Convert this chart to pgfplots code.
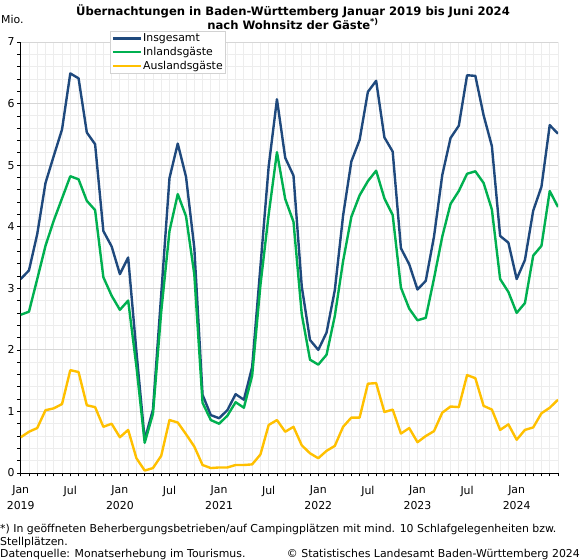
\documentclass[border=0pt]{standalone}
\usepackage{pgfplots}
\usepackage{pgfplotstable}
\pgfplotsset{compat=1.18}
\usepackage{fontspec}
\setmainfont{DejaVu Sans}
\definecolor{cblue}{HTML}{1F497D}
\definecolor{cgreen}{HTML}{00B050}
\definecolor{corange}{HTML}{FFC000}
\definecolor{gmaj}{HTML}{D6D6D6}
\definecolor{gmin}{HTML}{EDEDED}
\newcommand{\fs}{\fontsize{10.9bp}{14bp}\selectfont}

\pgfplotstableread{
i ins inl aus
0 3.15 2.57 0.58
1 3.29 2.62 0.67
2 3.88 3.15 0.73
3 4.71 3.69 1.02
4 5.15 4.10 1.05
5 5.58 4.46 1.12
6 6.49 4.82 1.67
7 6.41 4.77 1.64
8 5.53 4.42 1.10
9 5.34 4.27 1.07
10 3.93 3.18 0.75
11 3.68 2.88 0.80
12 3.23 2.65 0.58
13 3.50 2.80 0.70
14 1.97 1.73 0.24
15 0.54 0.49 0.04
16 1.03 0.96 0.08
17 2.90 2.62 0.28
18 4.79 3.93 0.86
19 5.35 4.53 0.82
20 4.81 4.17 0.63
21 3.66 3.23 0.43
22 1.27 1.14 0.13
23 0.94 0.86 0.08
24 0.89 0.80 0.09
25 1.02 0.93 0.09
26 1.28 1.15 0.13
27 1.19 1.06 0.13
28 1.72 1.58 0.14
29 3.35 3.05 0.30
30 4.98 4.20 0.78
31 6.07 5.21 0.86
32 5.12 4.45 0.67
33 4.83 4.08 0.75
34 3.03 2.58 0.45
35 2.16 1.84 0.32
36 2.00 1.76 0.24
37 2.28 1.92 0.36
38 2.97 2.55 0.44
39 4.18 3.44 0.75
40 5.06 4.16 0.90
41 5.41 4.51 0.90
42 6.19 4.74 1.45
43 6.37 4.91 1.46
44 5.45 4.46 0.99
45 5.22 4.19 1.03
46 3.65 3.01 0.64
47 3.39 2.67 0.73
48 2.98 2.48 0.50
49 3.12 2.52 0.60
50 3.84 3.16 0.68
51 4.84 3.84 0.98
52 5.44 4.37 1.08
53 5.64 4.58 1.07
54 6.46 4.86 1.59
55 6.45 4.90 1.54
56 5.81 4.71 1.09
57 5.31 4.28 1.03
58 3.85 3.15 0.70
59 3.74 2.94 0.79
60 3.15 2.60 0.54
61 3.46 2.76 0.70
62 4.26 3.53 0.74
63 4.65 3.69 0.97
64 5.65 4.58 1.06
65 5.51 4.32 1.19
}\datatable

\begin{document}
\begin{tikzpicture}
\useasboundingbox (0bp,0bp) rectangle (581bp,560bp);
\begin{axis}[
  at={(20.7bp,87bp)}, anchor=south west,
  scale only axis, width=537.3bp, height=431bp,
  xmin=0, xmax=65, ymin=0, ymax=7,
  axis lines*=left,
  axis line style={black, line width=0.8bp},
  tick style={black, line width=0.7bp},
  tick align=outside,
  major tick length=3.5bp, minor tick length=3.5bp,
  xtick={0,6,...,60},
  xticklabels={{Jan\\2019},Jul,{Jan\\2020},Jul,{Jan\\2021},Jul,{Jan\\2022},Jul,{Jan\\2023},Jul,{Jan\\2024}},
  minor xtick={0,...,65},
  ytick={0,...,7},
  minor y tick num=4,
  grid=both,
  major x grid style={gmin, line width=0.8bp},
  minor x grid style={gmin, line width=0.8bp},
  major y grid style={gmaj, line width=0.8bp},
  minor y grid style={gmin, line width=0.8bp},
  /pgf/number format/assume math mode=true,
  ticklabel style={font=\fs},
  yticklabel style={xshift=1bp},
  xticklabel style={align=center, font=\fontsize{10.9bp}{15.5bp}\selectfont, yshift=-6bp},
  legend style={at={(0.166,1.0255)}, anchor=north west, draw=gray!35, fill=white,
    font=\fs, inner sep=1.5bp, row sep=1.6bp, cells={anchor=west},
    nodes={inner sep=1.2bp}},
  legend image code/.code={\draw[#1] (2bp,0bp) -- (30bp,0bp);},
  every axis plot/.append style={line width=2.4bp, line join=round},
]
\addplot[cblue] table[x=i,y=ins]{\datatable};
\addlegendentry{Insgesamt}
\addplot[cgreen] table[x=i,y=inl]{\datatable};
\addlegendentry{Inlandsgäste}
\addplot[corange] table[x=i,y=aus]{\datatable};
\addlegendentry{Auslandsgäste}
\end{axis}
\node[font=\bfseries\fontsize{11.6bp}{14bp}\selectfont, align=center, inner sep=0] at (293bp,543bp)
  {Übernachtungen in Baden-Württemberg Januar 2019 bis Juni 2024\\nach Wohnsitz der Gäste\textsuperscript{*)}};
\node[font=\fs, anchor=west, inner sep=0] at (1bp,541bp) {Mio.};
\node[font=\fs, anchor=west, inner sep=0] at (0bp,31bp) {*) In geöffneten Beherbergungsbetrieben/auf Campingplätzen mit mind. 10 Schlafgelegenheiten bzw.};
\node[font=\fs, anchor=west, inner sep=0] at (0bp,17.5bp) {Stellplätzen.};
\node[font=\fs, anchor=west, inner sep=0] at (0bp,5.5bp) {Datenquelle: Monatserhebung im Tourismus.};
\node[font=\fs, anchor=east, inner sep=0] at (580bp,5.5bp) {© Statistisches Landesamt Baden-Württemberg 2024};
\end{tikzpicture}
\end{document}
